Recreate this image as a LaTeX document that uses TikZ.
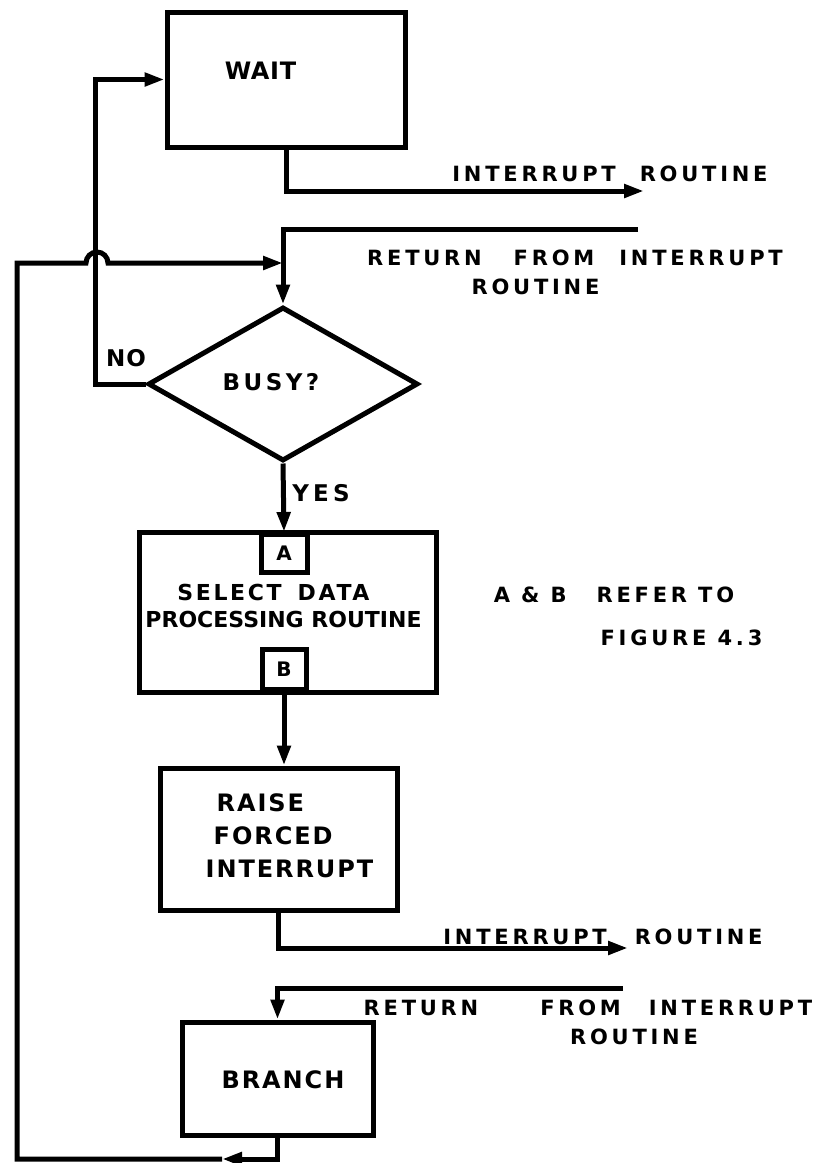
\documentclass[tikz,border=0pt]{standalone}
\usepackage{fontspec}
\setmainfont{DejaVu Sans}
\newfontfamily\dvs{DejaVu Sans}
\usetikzlibrary{arrows.meta,shapes.geometric}
\begin{document}
\begin{tikzpicture}[x=1pt,y=-1pt,line width=5pt,
  box/.style={draw,line width=5pt,inner sep=0pt},
  arr/.style={-{Triangle[length=20pt,width=13pt]}},
  fnt/.style n args={3}{inner sep=0pt,font=\dvs\bfseries\fontsize{#1}{#2}\selectfont\addfontfeature{LetterSpace=#3}},
  txtout/.style={fnt={21}{26}{18}}]
\fill[white] (0,0) rectangle (826,1163);
\useasboundingbox (0,0) rectangle (826,1163);

% boxes
\node[box,minimum width=238pt,minimum height=135pt,
  label={[fnt={24}{30}{3},xshift=-25.5pt,yshift=8.5pt]center:WAIT}] (wait) at (286,79.5) {};
\node[box,diamond,minimum width=270pt,minimum height=154pt,
  label={[fnt={23}{28}{15},xshift=-12pt,yshift=2pt]center:BUSY?}] (busy) at (283,384) {};
\node[box,minimum width=297pt,minimum height=160pt,
  label={[fnt={22}{27.5}{12},align=center,xshift=-4pt,yshift=6pt]center:SELECT\hspace{16pt}DATA\hspace*{20pt}\\{\addfontfeature{LetterSpace=0}PROCESSING ROUTINE}}] (sel) at (287.5,612) {};
\node[box,fnt={20}{24}{0},minimum width=46pt,minimum height=38pt,anchor=north] (A) at (284,532) {A};
\node[box,fnt={20}{24}{0},minimum width=44pt,minimum height=40pt,anchor=south] (B) at (284,692) {B};
\node[box,minimum width=237pt,minimum height=142pt,
  label={[fnt={24}{33}{8},align=left,xshift=11pt,yshift=3.5pt]center:\hspace*{11pt}RAISE\\\hspace*{8pt}FORCED\\INTERRUPT}] (raise) at (278.5,839) {};
\node[box,minimum width=191pt,minimum height=113pt,
  label={[fnt={24}{30}{8},xshift=5.5pt,yshift=-1.5pt]center:BRANCH}] (branch) at (277.5,1078.5) {};

% free texts
\node[fnt={23}{28}{5}] (no) at (126,358) {NO};
\node[fnt={23}{28}{18}] (yes) at (321,493) {YES};
\node[txtout] (t1) at (610,174) {INTERRUPT\hspace{24pt}ROUTINE};
\node[txtout] (t2) at (575,258) {RETURN\hspace{32pt}FROM\hspace{25pt}INTERRUPT};
\node[txtout] (t3) at (535.5,287) {ROUTINE};
\node[txtout] (t4) at (614,595) {A \& B\hspace{30pt}REFER TO};
\node[txtout] (t5) at (681.5,638) {FIGURE 4.3};
\node[txtout] (t6) at (603,937) {INTERRUPT\hspace{28pt}ROUTINE};
\node[txtout] (t7) at (588,1008) {RETURN\hspace{62pt}FROM\hspace{28pt}INTERRUPT};
\node[txtout] (t8) at (634,1037) {ROUTINE};

% connectors
\coordinate (int1) at (644,191);
\coordinate (ret1) at (638,229);
\coordinate (int2) at (628,948);
\coordinate (ret2) at (623,988);
\coordinate (mid) at (222,1159);
\coordinate (bl) at (17,1159);
\coordinate (tl) at (17,263);

\draw[arr] (wait.south) |- (int1);
\draw[arr] (ret1) -| (busy.north);
\draw[arr] (busy.west) -- ++(-50,0) |- (wait.west);
\draw[arr] (busy.south) -- (A.north);
\draw[arr] (B.south) -- (B.south |- raise.north);
\draw[arr] (raise.south) |- (int2);
\draw[arr] (ret2) -| (branch.north);
\draw[arr] (branch.south) |- (mid);
\draw[arr] (mid) -- (bl) -- (tl) -- (86,263) arc[start angle=180,end angle=360,radius=11] -- (busy.north |- tl);
\end{tikzpicture}
\end{document}
